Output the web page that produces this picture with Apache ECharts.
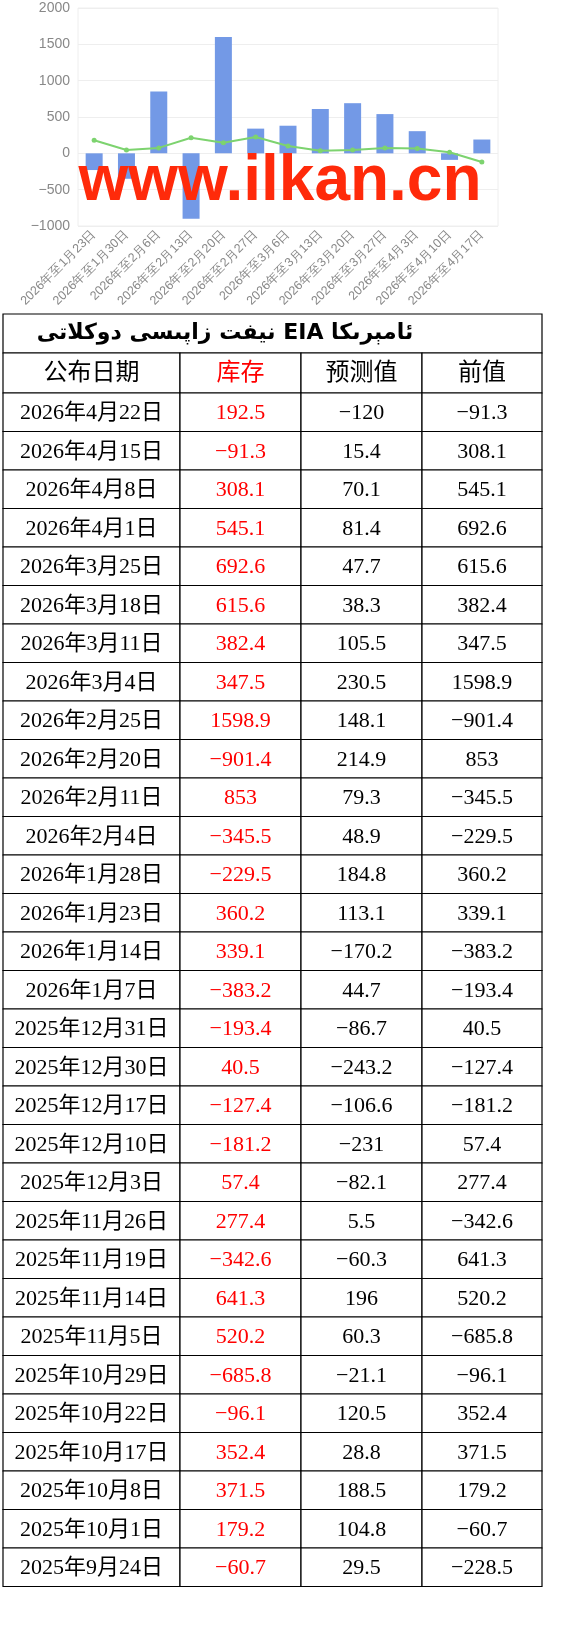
<!DOCTYPE html>
<html><head><meta charset="utf-8">
<script src="https://cdn.jsdelivr.net/npm/echarts@6/dist/echarts.min.js"></script>
<style>html,body{margin:0;padding:0;background:#fff}#c{width:567px;height:1626px}</style>
</head><body><div id="c"></div>
<script>
const categories=['2026年至1月23日','2026年至1月30日','2026年至2月6日','2026年至2月13日','2026年至2月20日','2026年至2月27日','2026年至3月6日','2026年至3月13日','2026年至3月20日','2026年至3月27日','2026年至4月3日','2026年至4月10日','2026年至4月17日'];
const barValues=[-230,-350,850,-900,1600,340,380,610,690,540,305,-90,190];
const lineValues=[180,45,75,215,145,225,100,35,45,75,65,15,-120];
const tableTitle='ئامېرىكا EIA نيفت زاپىسى دوكلاتى';
const headers=['公布日期','库存','预测值','前值'];
const dates=['2026年4月22日','2026年4月15日','2026年4月8日','2026年4月1日','2026年3月25日','2026年3月18日','2026年3月11日','2026年3月4日','2026年2月25日','2026年2月20日','2026年2月11日','2026年2月4日','2026年1月28日','2026年1月23日','2026年1月14日','2026年1月7日','2025年12月31日','2025年12月30日','2025年12月17日','2025年12月10日','2025年12月3日','2025年11月26日','2025年11月19日','2025年11月14日','2025年11月5日','2025年10月29日','2025年10月22日','2025年10月17日','2025年10月8日','2025年10月1日','2025年9月24日'];
const stock=['192.5','-91.3','308.1','545.1','692.6','615.6','382.4','347.5','1598.9','-901.4','853','-345.5','-229.5','360.2','339.1','-383.2','-193.4','40.5','-127.4','-181.2','57.4','277.4','-342.6','641.3','520.2','-685.8','-96.1','352.4','371.5','179.2','-60.7'];
const forecast=['-120','15.4','70.1','81.4','47.7','38.3','105.5','230.5','148.1','214.9','79.3','48.9','184.8','113.1','-170.2','44.7','-86.7','-243.2','-106.6','-231','-82.1','5.5','-60.3','196','60.3','-21.1','120.5','28.8','188.5','104.8','29.5'];
const previous=['-91.3','308.1','545.1','692.6','615.6','382.4','347.5','1598.9','-901.4','853','-345.5','-229.5','360.2','339.1','-383.2','-193.4','40.5','-127.4','-181.2','57.4','277.4','-342.6','641.3','520.2','-685.8','-96.1','352.4','371.5','179.2','-60.7','-228.5'];

const fmt=s=>s.replace('-','−');
const colX=[3,180,301,422,542];
const tTop=314, titleH=39, headH=40, rowH=38.5;
const g=[];
const tf="'Liberation Serif','Noto Sans CJK SC',serif";
g.push({type:'rect',shape:{x:colX[0],y:tTop,width:colX[4]-colX[0],height:titleH},style:{fill:'#fff',stroke:'#000',lineWidth:1.2}});
g.push({type:'text',x:225,y:tTop+titleH/2,style:{text:'\u202B'+tableTitle+'\u202C',font:"bold 22px 'DejaVu Sans',sans-serif",fill:'#000',align:'center',verticalAlign:'middle'}});
const rows=[headers].concat(dates.map((d,i)=>[d,stock[i],forecast[i],previous[i]]));
rows.forEach((r,ri)=>{
  const y=ri===0?tTop+titleH:tTop+titleH+headH+(ri-1)*rowH;
  const h=ri===0?headH:rowH;
  for(let c=0;c<4;c++){
    g.push({type:'rect',shape:{x:colX[c],y:y,width:colX[c+1]-colX[c],height:h},style:{fill:'#fff',stroke:'#000',lineWidth:1.2}});
    g.push({type:'text',x:(colX[c]+colX[c+1])/2,y:y+h/2+1,style:{text:ri===0?r[c]:fmt(r[c]),font:(ri===0?'24px ':'22px ')+tf,fill:c===1?'#ff0000':'#000',align:'center',verticalAlign:'middle'}});
  }
});
g.push({type:'text',x:280,y:182,z:100,style:{text:'www.ilkan.cn',font:"bold 64px 'Liberation Sans',Arial,sans-serif",fill:'#ff2a0a',align:'center',verticalAlign:'middle',shadowBlur:6,shadowColor:'rgba(0,0,0,0.35)',shadowOffsetY:2}});

const chart=echarts.init(document.getElementById('c'),null,{renderer:'canvas'});
chart.setOption({
  animation:false,
  grid:{left:78,right:69,top:8,bottom:1400,containLabel:false,show:true,borderColor:'#eee',borderWidth:1},
  xAxis:{type:'category',data:categories,axisLine:{show:false},axisTick:{show:false},
    axisLabel:{rotate:45,interval:0,color:'#888',fontSize:12.5,margin:6},splitLine:{show:false}},
  yAxis:{type:'value',min:-1000,max:2000,interval:500,axisLabel:{color:'#888',fontSize:14,formatter:v=>String(v).replace('-','−')},
    axisLine:{show:false},splitLine:{lineStyle:{color:'#eee'}}},
  series:[
    {type:'bar',data:barValues,barWidth:17,itemStyle:{color:'#7399e6'}},
    {type:'line',data:lineValues,symbol:'circle',symbolSize:5,itemStyle:{color:'#7dd36f'},lineStyle:{color:'#7dd36f',width:2}}
  ],
  graphic:g
});
</script></body></html>
